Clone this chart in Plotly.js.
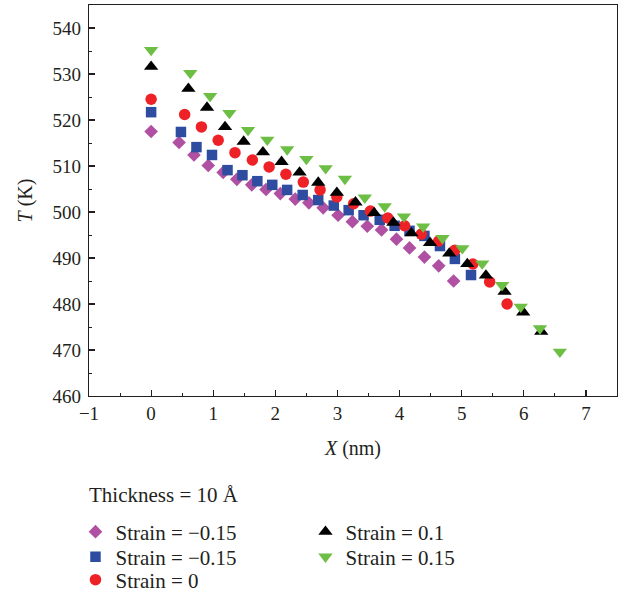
<!DOCTYPE html>
<html>
<head>
<meta charset="utf-8">
<script src="https://cdn.plot.ly/plotly-3.0.1.min.js"></script>
<style>html,body{margin:0;padding:0;background:#fff;}</style>
</head>
<body>
<div id="chart" style="width:634px;height:593px;"></div>
<script>
// Strain = -0.15 (diamonds)
const xDiamond = [0, 0.45, 0.69, 0.92, 1.16, 1.38, 1.62, 1.85, 2.08, 2.32, 2.54, 2.77, 3.01, 3.24, 3.48, 3.71, 3.95, 4.16, 4.40, 4.63, 4.87];
const tDiamond = [517.5, 515.1, 512.4, 510.1, 508.6, 507.1, 505.9, 504.9, 504.0, 502.8, 502.0, 500.9, 499.3, 497.9, 496.9, 496.1, 494.1, 492.2, 490.2, 488.3, 485.0];
// Strain = -0.15 (squares)
const xSquare = [0, 0.48, 0.73, 0.98, 1.23, 1.47, 1.71, 1.95, 2.19, 2.44, 2.69, 2.94, 3.18, 3.42, 3.68, 3.92, 4.16, 4.40, 4.65, 4.89, 5.15];
const tSquare = [521.7, 517.4, 514.1, 512.4, 509.1, 508.0, 506.7, 505.9, 504.8, 503.7, 502.6, 501.4, 500.4, 499.3, 498.3, 497.0, 495.9, 494.8, 492.6, 489.8, 486.3];
// Strain = 0 (circles)
const xCircle = [0, 0.54, 0.81, 1.08, 1.35, 1.63, 1.90, 2.17, 2.45, 2.72, 2.99, 3.26, 3.53, 3.81, 4.08, 4.35, 4.63, 4.89, 5.18, 5.45, 5.73];
const tCircle = [524.5, 521.2, 518.5, 515.6, 512.9, 511.3, 509.8, 508.2, 506.5, 504.8, 503.3, 501.8, 500.2, 498.7, 497.0, 495.2, 493.7, 491.7, 488.7, 484.8, 480.0];
// Strain = 0.1 (triangle up)
const xUp = [0, 0.60, 0.90, 1.19, 1.49, 1.80, 2.10, 2.39, 2.69, 2.99, 3.29, 3.59, 3.90, 4.19, 4.49, 4.80, 5.09, 5.39, 5.69, 5.99, 6.28];
const tUp = [531.6, 526.8, 522.7, 518.5, 515.3, 513.0, 510.9, 508.6, 506.4, 504.2, 502.1, 499.8, 497.7, 495.4, 493.3, 491.0, 488.7, 486.2, 482.7, 478.2, 474.0];
// Strain = 0.15 (triangle down)
const xDown = [0, 0.63, 0.95, 1.26, 1.56, 1.87, 2.19, 2.50, 2.81, 3.12, 3.44, 3.76, 4.07, 4.38, 4.69, 5.01, 5.33, 5.65, 5.95, 6.26, 6.58];
const tDown = [535.2, 530.2, 525.2, 521.5, 517.8, 515.7, 513.6, 511.5, 509.5, 507.2, 503.1, 501.2, 499.0, 496.8, 494.3, 492.1, 488.8, 484.1, 479.4, 474.7, 469.6];

const seriesNames = ["Strain = \u22120.15", "Strain = \u22120.15", "Strain = 0", "Strain = 0.1", "Strain = 0.15"];
const legendTitle = "Thickness = 10 \u00C5";
const xTickVals = [-1, 0, 1, 2, 3, 4, 5, 6, 7];
const xTickText = ["\u22121", "0", "1", "2", "3", "4", "5", "6", "7"];
const yTickVals = [460, 470, 480, 490, 500, 510, 520, 530, 540];

const FONT = "Liberation Serif, Times New Roman, serif";
const INK = "#231f20";

function tr(x, y, name, symbol, color, size, legend) {
  return {
    x: x, y: y, name: name, type: "scatter", mode: "markers",
    marker: {symbol: symbol, color: color, size: size, line: {width: 0}},
    legend: legend
  };
}

const data = [
  tr(xDiamond, tDiamond, seriesNames[0], "diamond", "#B050A2", 10.5, "legend"),
  tr(xSquare, tSquare, seriesNames[1], "square", "#2F4DA0", 10.5, "legend2"),
  tr(xCircle, tCircle, seriesNames[2], "circle", "#EE2226", 11.5, "legend3"),
  tr(xUp, tUp, seriesNames[3], "triangle-up", "#000000", 12.5, "legend4"),
  tr(xDown, tDown, seriesNames[4], "triangle-down", "#6CBE45", 12.5, "legend5")
];

const axisCommon = {
  showgrid: false, zeroline: false,
  showline: true, linecolor: INK, linewidth: 1.3, mirror: true,
  ticks: "inside", ticklen: 6, tickwidth: 1.2, tickcolor: INK,
  tickfont: {family: FONT, size: 19, color: INK}
};

function leg(x, y) {
  return {
    x: x, y: y, xanchor: "left", yanchor: "middle",
    orientation: "v", bgcolor: "rgba(0,0,0,0)",
    font: {family: FONT, size: 21, color: INK}, tracegroupgap: 0
  };
}

const layout = {
  width: 634, height: 593,
  margin: {l: 89, r: 17, t: 5, b: 197, autoexpand: false},
  paper_bgcolor: "#fff", plot_bgcolor: "#fff",
  font: {family: FONT, color: INK},
  showlegend: true,
  xaxis: Object.assign({}, axisCommon, {
    range: [-1, 7.5], tickvals: xTickVals, ticktext: xTickText,
    minor: {dtick: 0.5, ticks: "inside", ticklen: 3, tickcolor: INK, tickwidth: 1},
    title: {text: "<i>X</i> (nm)", font: {family: FONT, size: 20, color: INK}, standoff: 18}
  }),
  yaxis: Object.assign({}, axisCommon, {
    range: [460, 545], tickvals: yTickVals, ticklabelstandoff: 3,
    minor: {dtick: 5, ticks: "inside", ticklen: 3, tickcolor: INK, tickwidth: 1},
    title: {text: "<i>T</i> (K)", font: {family: FONT, size: 20, color: INK}, standoff: 14}
  }),
  legend: leg(-0.0256, -0.3478),
  legend2: leg(-0.0256, -0.4118),
  legend3: leg(-0.0256, -0.4706),
  legend4: leg(0.410, -0.3478),
  legend5: leg(0.410, -0.4118),
  annotations: [{
    text: legendTitle, xref: "paper", yref: "paper",
    x: -0.004, y: -0.2532, xanchor: "left", yanchor: "middle",
    showarrow: false, font: {family: FONT, size: 21, color: INK}
  }]
};

Plotly.newPlot("chart", data, layout, {displayModeBar: false, staticPlot: true});
</script>
</body>
</html>
